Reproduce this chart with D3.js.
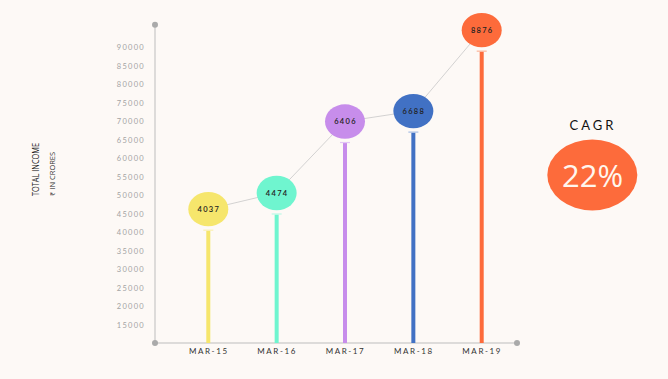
<!DOCTYPE html>
<html><head><meta charset="utf-8">
<script src="https://cdn.jsdelivr.net/npm/d3@7"></script>
<style>
html,body{margin:0;padding:0;background:#fdf9f6;}
svg{display:block;font-family:Lato,"Open Sans",sans-serif;}
</style></head>
<body>
<svg id="c" width="668" height="379"></svg>
<script>
const categories = ["MAR-15","MAR-16","MAR-17","MAR-18","MAR-19"];
const values = [4037, 4474, 6406, 6688, 8876];
const colors = ["#f6e66c","#6ff5cf","#c78deb","#4171c4","#fd6b3b"];
const capColors = ["#faf0b0","#bdf8e6","#e3c6f5","#a6bde4","#fcb59a"];
const yTicks = [15000,20000,25000,30000,35000,40000,45000,50000,55000,60000,65000,70000,75000,80000,85000,90000];
const cagr = "22%";

const svg = d3.select("#c");
const x = d3.scalePoint().domain(categories).range([208.3, 481.7]);
const y = d3.scaleLinear().domain([10000, 96050]).range([343, 24.7]);

const axisColor = "#bdbdbd";
svg.append("line").attr("x1",155).attr("x2",155).attr("y1",y(96050)).attr("y2",y(10000)).attr("stroke",axisColor).attr("stroke-width",1);
svg.append("line").attr("x1",155).attr("x2",517).attr("y1",y(10000)).attr("y2",y(10000)).attr("stroke",axisColor).attr("stroke-width",1);
[[155,y(96050)],[155,y(10000)],[517,y(10000)]].forEach(p=>{
  svg.append("circle").attr("cx",p[0]).attr("cy",p[1]).attr("r",3).attr("fill","#aaaaaa");
});

const yAxis = d3.axisLeft(y).tickValues(yTicks).tickSize(0).tickPadding(0).tickFormat(d3.format("d"));
const ga = svg.append("g").attr("transform","translate(145,0)").call(yAxis);
ga.select(".domain").remove();
ga.selectAll("text").attr("fill","#a3a3a3").attr("font-size","7.5px").attr("letter-spacing","1.3px").attr("font-family","Lato, sans-serif").attr("dy","0.35em");

const xAxis = d3.axisBottom(x).tickSize(0).tickPadding(0);
const gx = svg.append("g").attr("transform","translate(0,348.5)").call(xAxis);
gx.select(".domain").remove();
gx.selectAll("text").attr("fill","#333").attr("font-size","8px").attr("letter-spacing","1.6px").attr("font-family","Lato, sans-serif").attr("dy","0.71em");

const data = categories.map((c,i)=>({c, v:values[i], col:colors[i], cap:capColors[i]}));
svg.selectAll(".bar").data(data).enter().append("rect")
  .attr("x",d=>x(d.c)-2).attr("width",4)
  .attr("y",d=>y(d.v*10)).attr("height",d=>y(10000)-y(d.v*10))
  .attr("fill",d=>d.col);
svg.selectAll(".cap").data(data).enter().append("line")
  .attr("x1",d=>x(d.c)-5).attr("x2",d=>x(d.c)+5)
  .attr("y1",d=>y(d.v*10)-0.5).attr("y2",d=>y(d.v*10)-0.5)
  .attr("stroke",d=>d.cap).attr("stroke-width",1.2);

const line = d3.line().x(d=>x(d.c)).y(d=>y(d.v*10)-21.5);
svg.append("path").datum(data).attr("d",line).attr("fill","none").attr("stroke","#c8c8c8").attr("stroke-width",0.8);

svg.selectAll(".bub").data(data).enter().append("ellipse")
  .attr("cx",d=>x(d.c)).attr("cy",d=>y(d.v*10)-21.5)
  .attr("rx",20).attr("ry",17.2).attr("fill",d=>d.col);
svg.selectAll(".lab").data(data).enter().append("text")
  .attr("x",d=>x(d.c)+0.5).attr("y",d=>y(d.v*10)-21.5).attr("dy","0.35em")
  .attr("text-anchor","middle").attr("font-size","7.5px").attr("font-weight","600")
  .attr("letter-spacing","1.3px").attr("fill","#222").text(d=>d.v);

svg.append("text").attr("transform","translate(38.5,196) rotate(-90)")
  .attr("text-anchor","start").attr("font-size","8.5px").attr("fill","#222")
  .attr("textLength",53).attr("lengthAdjust","spacingAndGlyphs")
  .attr("font-family","'Open Sans', sans-serif").text("TOTAL INCOME");
svg.append("text").attr("transform","translate(54.5,196) rotate(-90)")
  .attr("text-anchor","start").attr("font-size","6.5px").attr("fill","#333")
  .attr("textLength",44).attr("lengthAdjust","spacingAndGlyphs")
  .attr("font-family","'Open Sans', sans-serif").text("₹ IN CRORES");

svg.append("text").attr("x",593).attr("y",130).attr("text-anchor","middle")
  .attr("font-size","13px").attr("letter-spacing","3px").attr("fill","#111").text("CAGR");
svg.append("ellipse").attr("cx",592.3).attr("cy",175).attr("rx",45).attr("ry",35.5).attr("fill","#fd6b3b");
svg.append("text").attr("x",592.5).attr("y",176).attr("dy","0.35em").attr("text-anchor","middle")
  .attr("font-size","31px").attr("fill","#fff6ee").attr("font-family","'Open Sans', sans-serif").text(cagr);
</script>
</body></html>
